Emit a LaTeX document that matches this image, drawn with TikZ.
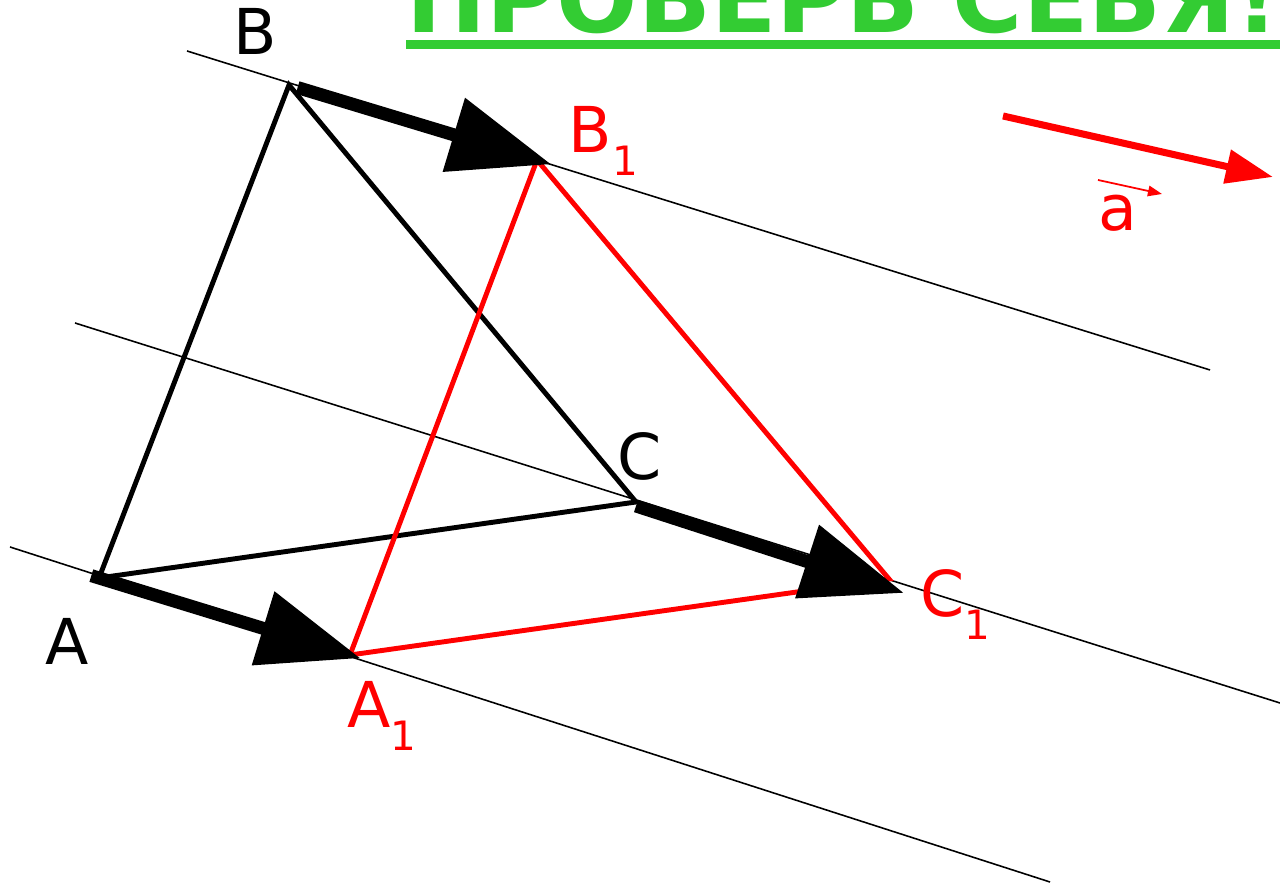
\documentclass[tikz,border=0pt]{standalone}
\usepackage{fontspec}
\setmainfont{DejaVu Sans}
\usetikzlibrary{arrows.meta}
\definecolor{titlegreen}{RGB}{51,204,51}
\newcommand{\lowidx}[1]{\raisebox{-6.5pt}{\fontsize{11.5}{12}\selectfont #1}}

\begin{document}
\begin{tikzpicture}[
    thinline/.style={line width=0.45pt},
    side/.style={line width=1.4pt},
    movearrow/.style={line width=3.7pt,-{Triangle[length=29pt,width=21pt]}},
    vecarrow/.style={red,line width=2pt,-{Triangle[length=13.4pt,width=9.4pt]}},
    smallvec/.style={red,line width=0.5pt,-{Triangle[length=4pt,width=3pt]}},
    point/.style={inner sep=0pt,anchor=base west,font=\fontsize{18}{20}\selectfont}]
  \useasboundingbox (0,0) rectangle (12.8,8.84);
  \clip (0,0) rectangle (12.8,8.84);
  % triangle and its image
  \coordinate (A) at (0.99,3.06);
  \coordinate (B) at (2.89,7.99);
  \coordinate (C) at (6.36,3.82);
  \coordinate (A1) at (3.50,2.29);
  \coordinate (B1) at (5.37,7.24);
  \coordinate (C1) at (8.89,3.05);
  % ends of the thin lines
  \coordinate (lA-1) at (0.10,3.37);  \coordinate (lA-2) at (10.50,0.02);
  \coordinate (lB-1) at (1.87,8.33);  \coordinate (lB-2) at (12.10,5.14);
  \coordinate (lC-1) at (0.75,5.61);  \coordinate (lC-2) at (12.80,1.81);
  % vector a
  \coordinate (a-1) at (10.03,7.68);
  \coordinate (a-2) at (12.73,7.07);

  \draw[thinline] (lA-1) -- (lA-2) (lB-1) -- (lB-2) (lC-1) -- (lC-2);
  \draw[side] (A) -- (B) -- (C) -- cycle;
  \draw[side,red] (A1) -- (B1) -- (C1) -- cycle;
  \path[movearrow]
    (A) edge[shorten <=-0.8mm,shorten >=-1.1mm] (A1)
    (B) edge[shorten <=0.9mm,shorten >=-1.5mm] (B1)
    ([yshift=-0.4mm]C) edge ([xshift=1.5mm,yshift=-1.4mm]C1);
  \draw[vecarrow] (a-1) -- (a-2);

  \node[point] (lbl-A) at (0.45,2.19) {A};
  \node[point] (lbl-B) at (2.33,8.29) {B};
  \node[point] (lbl-C) at (6.17,4.04) {C};
  \node[point,red] (lbl-A1) at (3.47,1.56) {A\lowidx{1}};
  \node[point,red] (lbl-B1) at (5.68,7.31) {B\lowidx{1}};
  \node[point,red] (lbl-C1) at (9.20,2.67) {C\lowidx{1}};
  \node[point,red,anchor=center] (lbl-a) at (11.18,6.71) {a};
  \draw[smallvec] ([xshift=-2mm,yshift=3.3mm]lbl-a.center) -- ([xshift=4.4mm,yshift=1.9mm]lbl-a.center);

  % title
  \node[inner sep=0pt,anchor=base west,text=titlegreen,font=\bfseries] (title) at (4.06,8.51)
    {\resizebox{8.72cm}{!}{ПРОВЕРЬ СЕБЯ!}};
  \draw[titlegreen,line width=2.56pt] ([yshift=-1.15mm]title.base west) -- ([yshift=-1.15mm]title.base east);
\end{tikzpicture}
\end{document}
